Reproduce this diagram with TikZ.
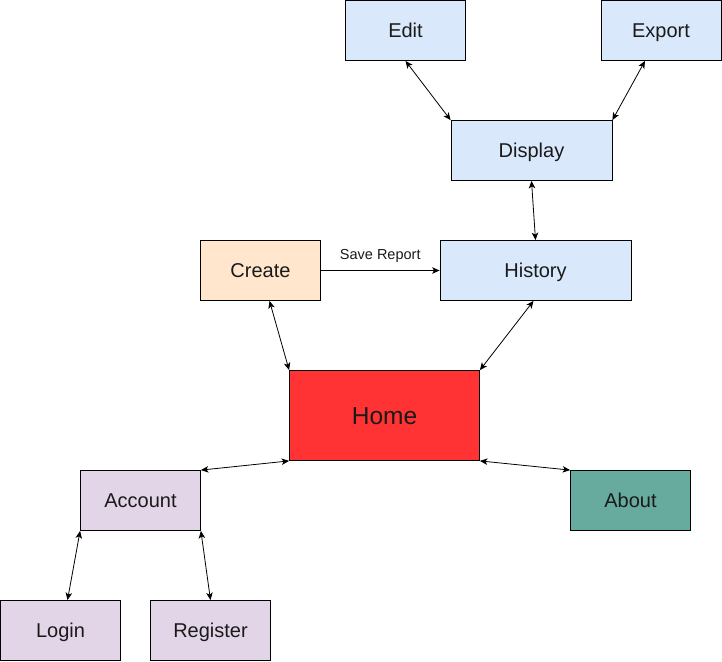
\documentclass[tikz,border=0pt]{standalone}
\usepackage{fontspec}
\setmainfont{Liberation Sans}
\usetikzlibrary{arrows.meta}
\definecolor{bluef}{HTML}{DAE8FC}
\definecolor{orangef}{HTML}{FFE6CC}
\definecolor{redf}{HTML}{FF3333}
\definecolor{purplef}{HTML}{E1D5E7}
\definecolor{tealf}{HTML}{67AB9F}
\definecolor{txt}{HTML}{1A1A1A}
\begin{document}
\begin{tikzpicture}[x=1pt,y=-1pt,
  box/.style={draw=black, line width=0.8pt, minimum width=120pt, minimum height=60pt, inner sep=0pt, text=txt, text height=14.3pt, text depth=0pt, font=\fontsize{20}{23}\selectfont},
  link/.style={line width=0.8pt, {Stealth[length=7.5pt,width=6.5pt,inset=2pt]}-{Stealth[length=7.5pt,width=6.5pt,inset=2pt]}},
  onelink/.style={line width=0.8pt, -{Stealth[length=7.5pt,width=6.5pt,inset=2pt]}}
]
\useasboundingbox (0,0) rectangle (722,661);
\node[box, fill=bluef] (edit) at (405.5,30.5) {Edit};
\node[box, fill=bluef] (export) at (661,30.5) {Export};
\node[box, fill=bluef, minimum width=161pt] (display) at (531.5,150.5) {Display};
\node[box, fill=orangef] (create) at (260.5,270.5) {Create};
\node[box, fill=bluef, minimum width=191pt] (history) at (535.5,270.5) {History};
\node[box, fill=redf, minimum width=190pt, minimum height=90pt, text height=17.5pt, font=\fontsize{24.5}{28}\selectfont] (home) at (384.5,415.5) {Home};
\node[box, fill=purplef] (account) at (140.5,500.5) {Account};
\node[box, fill=tealf] (about) at (630.5,500.5) {About};
\node[box, fill=purplef] (login) at (60.5,630.5) {Login};
\node[box, fill=purplef] (register) at (210.5,630.5) {Register};

\draw[link] (edit.south) -- (display.north west);
\draw[link] ([xshift=-16pt]export.south) -- (display.north east);
\draw[link] (display.south) -- (history.north);
\draw[onelink] (create.east) -- node[above=4pt, font=\fontsize{14.5}{17}\selectfont, text=txt] (savelbl) {Save Report} (history.west);
\draw[link] ([xshift=9pt]create.south) -- (home.north west);
\draw[link] ([xshift=-2pt]history.south) -- (home.north east);
\draw[link] (home.south west) -- (account.north east);
\draw[link] (home.south east) -- (about.north west);
\draw[link] (account.south west) -- ([xshift=7pt]login.north);
\draw[link] (account.south east) -- (register.north);
\end{tikzpicture}
\end{document}
